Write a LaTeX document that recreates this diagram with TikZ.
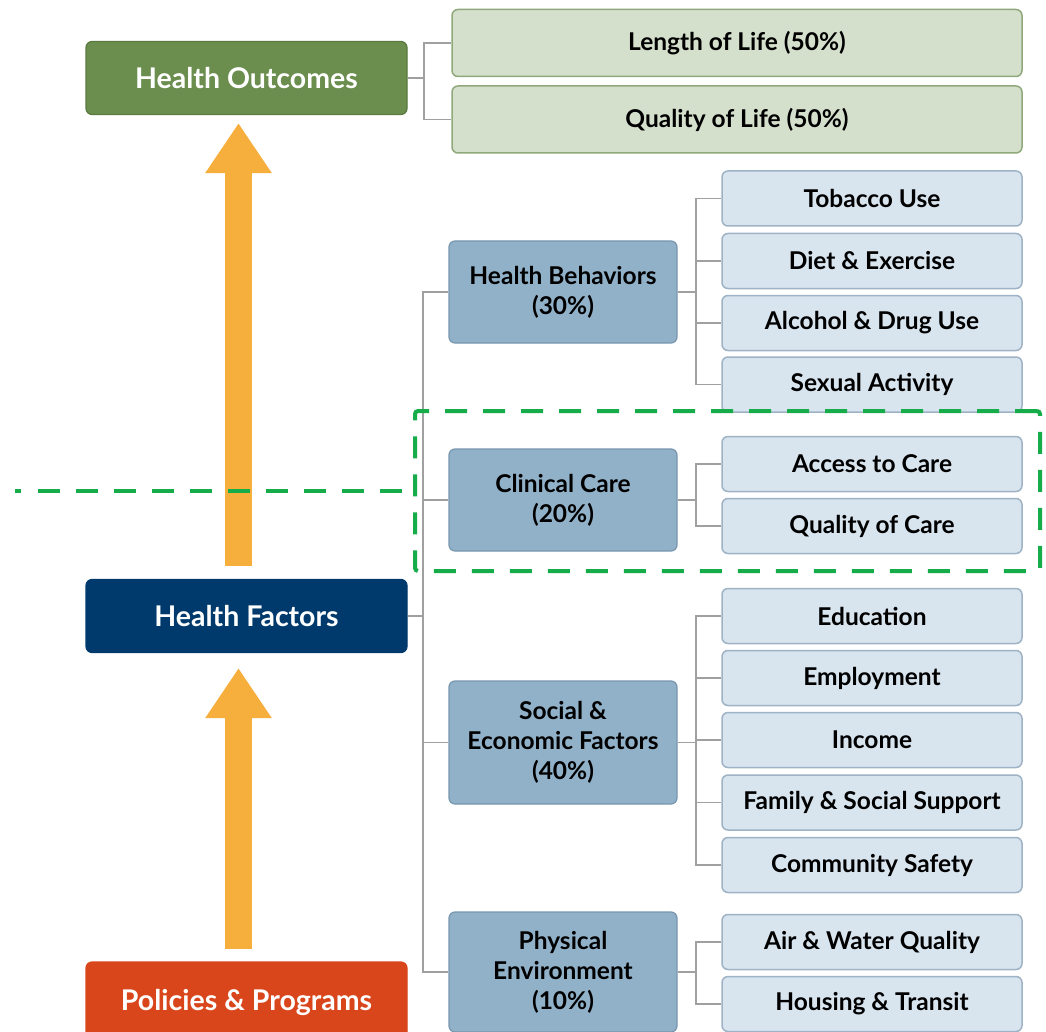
\documentclass[tikz,border=0pt]{standalone}
\usepackage{fontspec}
\setmainfont{Lato}
\usetikzlibrary{arrows.meta}
\definecolor{hogreen}{HTML}{6B8E4E}
\definecolor{hogreenB}{HTML}{5A7A40}
\definecolor{lolfill}{HTML}{D5E0CC}
\definecolor{lolbord}{HTML}{8FA87C}
\definecolor{hfnavy}{HTML}{003A6C}
\definecolor{pporange}{HTML}{D9461B}
\definecolor{midfill}{HTML}{91B1C9}
\definecolor{midbord}{HTML}{7896AE}
\definecolor{leaffill}{HTML}{D8E4EE}
\definecolor{leafbord}{HTML}{9FB3C6}
\definecolor{arroworange}{HTML}{F6AE3D}
\definecolor{dashgreen}{HTML}{17AC4A}
\definecolor{conngray}{HTML}{A0A0A0}
\tikzset{
  mainbox/.style={rounded corners=6pt, minimum width=321pt, minimum height=73pt, inner sep=0pt,
    text=white, font=\fontsize{28.5}{32}\selectfont\bfseries, line width=1.2pt},
  outbox/.style={rounded corners=6pt, draw=lolbord, fill=lolfill, minimum width=570pt, minimum height=67pt,
    inner sep=0pt, line width=1.5pt, font=\fontsize{24.5}{28}\selectfont\bfseries},
  midbox/.style={rounded corners=6pt, draw=midbord, fill=midfill, minimum width=228pt, inner sep=0pt,
    line width=1.2pt, align=center, font=\fontsize{24.5}{30}\selectfont\bfseries},
  leafbox/.style={rounded corners=6pt, draw=leafbord, fill=leaffill, minimum width=300pt, minimum height=55pt,
    inner sep=0pt, line width=1.5pt, font=\fontsize{24.5}{28}\selectfont\bfseries},
  conn/.style={draw=conngray, line width=1.8pt},
  bigarrow/.style={draw=arroworange, line width=27pt, -{Triangle[width=63pt,length=50pt]}},
  hilite/.style={draw=dashgreen, line width=4pt, dash pattern=on 22pt off 16pt, rounded corners=3pt,
    minimum width=625pt, minimum height=160pt, inner sep=0pt}
}
\begin{document}
\begin{tikzpicture}[x=1pt,y=-1pt]
\useasboundingbox[fill=white] (0,0) rectangle (1046,1032);
\begin{scope}
\clip (0,0) rectangle (1046,1032);
% main boxes
\node[mainbox, fill=hogreen, draw=hogreenB] (ho) at (246.5,78) {Health Outcomes};
\node[mainbox, fill=hfnavy, draw=hfnavy] (hf) at (246.5,616) {Health Factors};
\node[mainbox, fill=pporange, draw=pporange, minimum height=80pt] (pp) at (246.5,1002) {Policies \& Programs};
% outcomes
\node[outbox] (lol) at (737,43) {Length of Life (50\%)};
\node[outbox] (qol) at (737,119.5) {Quality of Life (50\%)};
% mid boxes
\node[midbox, minimum height=102pt] (hb) at (563,292) {Health Behaviors\\(30\%)};
\node[midbox, minimum height=102pt] (cc) at (563,500) {Clinical Care\\(20\%)};
\node[midbox, minimum height=123pt] (se) at (563,742.5) {Social \&\\Economic Factors\\(40\%)};
\node[midbox, minimum height=120pt] (pe) at (563,972) {Physical\\Environment\\(10\%)};
% leaves
\node[leafbox] (tob) at (872,198.5) {Tobacco Use};
\node[leafbox] (die) at (872,261) {Diet \& Exercise};
\node[leafbox] (alc) at (872,323) {Alcohol \& Drug Use};
\node[leafbox] (sex) at (872,384.5) {Sexual Activity};
\node[leafbox] (acc) at (872,464) {Access to Care};
\node[leafbox] (qoc) at (872,526) {Quality of Care};
\node[leafbox] (edu) at (872,616) {Education};
\node[leafbox] (emp) at (872,678) {Employment};
\node[leafbox] (inc) at (872,740) {Income};
\node[leafbox] (fam) at (872,802.5) {Family \& Social Support};
\node[leafbox] (com) at (872,865) {Community Safety};
\node[leafbox] (air) at (872,942) {Air \& Water Quality};
\node[leafbox] (hou) at (872,1004) {Housing \& Transit};
% connectors
\coordinate (hoj) at (424,78);
\draw[conn] (ho.east) -- (hoj);
\draw[conn] (hoj) |- (lol.west);
\draw[conn] (hoj) |- (qol.west);
\coordinate (hfj) at (423,616);
\draw[conn] (hf.east) -- (hfj);
\draw[conn] (hfj) |- (hb.west);
\draw[conn] (hfj) |- (cc.west);
\draw[conn] (hfj) |- (se.west);
\draw[conn] (hfj) |- (pe.west);
\coordinate (hbj) at (696,292);
\draw[conn] (hb.east) -- (hbj);
\foreach \n in {tob,die,alc,sex} \draw[conn] (hbj) |- (\n.west);
\coordinate (ccj) at (696,500);
\draw[conn] (cc.east) -- (ccj);
\foreach \n in {acc,qoc} \draw[conn] (ccj) |- (\n.west);
\coordinate (sej) at (696,742.5);
\draw[conn] (se.east) -- (sej);
\foreach \n in {edu,emp,inc,fam,com} \draw[conn] (sej) |- (\n.west);
\coordinate (pej) at (696,972);
\draw[conn] (pe.east) -- (pej);
\foreach \n in {air,hou} \draw[conn] (pej) |- (\n.west);
% big arrows
\draw[bigarrow, shorten <=13pt, shorten >=8pt] ([xshift=-8pt]hf.north) -- ([xshift=-8pt]ho.south);
\draw[bigarrow, shorten <=12pt, shorten >=15pt] ([xshift=-8pt]pp.north) -- ([xshift=-8pt]hf.south);
% highlight
\node[hilite] (hl) at (727.5,491) {};
\coordinate (dl) at (15,491);
\draw[draw=dashgreen, line width=4pt, dash pattern=on 6pt off 17pt on 22pt off 16pt on 22pt off 16pt on 22pt off 16pt on 22pt off 16pt on 22pt off 16pt on 22pt off 16pt on 22pt off 16pt on 22pt off 16pt on 22pt off 16pt on 22pt off 16pt on 22pt off 16pt] (dl) -- (hl.west);
\end{scope}
\end{tikzpicture}
\end{document}
